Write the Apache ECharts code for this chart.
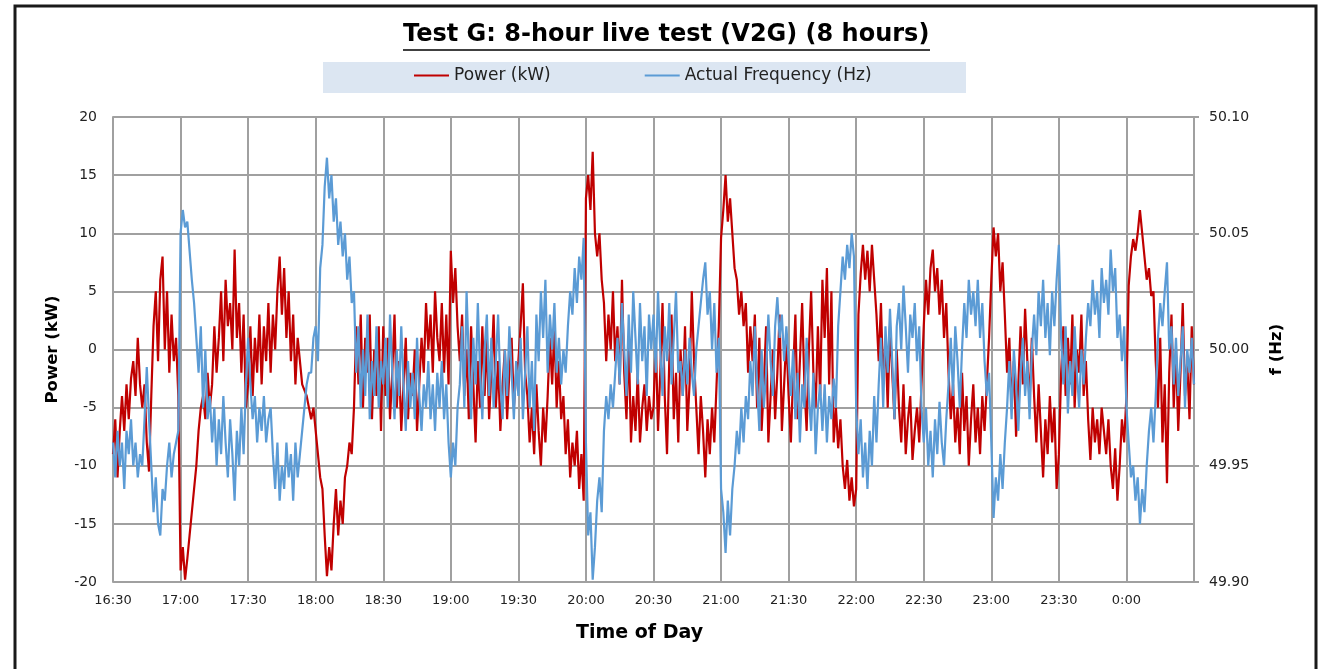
<!DOCTYPE html>
<html>
<head>
<meta charset="utf-8">
<title>Test G: 8-hour live test (V2G)</title>
<script src="https://cdn.jsdelivr.net/npm/echarts@6/dist/echarts.min.js"></script>
<style>
  html, body { margin: 0; padding: 0; background: #fff; }
  #main { width: 1319px; height: 669px; }
</style>
</head>
<body>
<div id="main"></div>
<script>
// one sample per minute, starting 16:30 (minute 0) up to 00:30 (minute 480)
var xTickLabels = ['16:30', '17:00', '17:30', '18:00', '18:30', '19:00', '19:30', '20:00',
                   '20:30', '21:00', '21:30', '22:00', '22:30', '23:00', '23:30', '0:00'];

// Power (kW), one line per half hour
var powerKw = [
    -9, -6, -11, -7, -4, -7, -3, -6, -2.5, -1, -4, 1, -3, -5, -3, -8, -10.5, -4, 2, 5, -1, 6, 8, 0, 5, -2, 3, -1, 1, -4,
    -19, -17, -19.8, -18, -16, -14, -12, -10, -7, -5, -4, -6, -2, -5, -3, 2, -2, 1, 5, -1, 6, 2, 4, 0, 8.6, 1, 4, -2, 3, -5,
    -3, 2, -4, 1, -2, 3, -3, 2, -1, 4, -2, 3, 0, 5, 8, 3, 7, 1, 5, -1, 3, -3, 1, -1, -3, -3.5, -4, -5, -6, -5,
    -7, -9, -11, -12, -16, -19.5, -17, -19, -15, -12, -16, -13, -15, -11, -10, -8, -9, -5, 2, -3, 3, -5, 1, -2, 3, -6, 0, -4, 2, -7,
    2, -4, 1, -6, -2, 3, -5, -1, -7, -3, 1, -6, -2, -4, 0, -7, -3, 1, -2, 4, 0, 3, -2, 5, 1, -1, 4, -2, 3, -3,
    8.5, 4, 7, 2, -1, 3, -4, 0, -6, 2, -3, -8, -1, -5, 2, -4, 1, -6, -2, 3, -5, -1, -7, -3, 0, -6, -2, 1, -5, -2,
    -1, 2, 5.7, -2, -4, -8, -5, -9, -3, -7, -10, -5, -8, -4, 1, -3, 2, -5, -1, -6, -4, -9, -6, -11, -8, -10, -7, -12, -9, -13,
    13, 15, 12, 17, 10, 8, 10, 6, 4, -1, 3, 0, 5, -1, 2, -3, 6, -2, -6, 1, -8, -4, -7, -2, -8, -5, -3, -7, -4, -6,
    -5, 1, -7, -2, 4, -4, -9, -1, 3, -6, -2, -8, 0, -4, 2, -7, -3, 5, -1, -5, -9, -4, -7, -11, -6, -9, -5, -8, -3, 2,
    9.6, 12, 15, 11, 13, 10, 7, 6, 3, 5, 2, 4, -2, 2, -1, 3, -5, 1, -7, -3, 2, -8, -4, 0, -6, -2, 3, -7, -3, 1,
    -4, -8, -2, 3, -6, -1, 4, -3, -7, 0, 5, -2, -5, 2, -4, 6, 1, 7, -3, 5, -8, -5, -8.5, -6, -10, -12, -9.5, -13, -11, -13.5,
    -12, 3, 6.5, 9, 6, 8.5, 5, 9, 6, 3, -1, 4, -3, 1, -5, 2, -2, -6, 0, -5, -8, -3, -9, -6, -4, -9.5, -7, -5, -8, -3,
    2, 6, 3, 7, 8.6, 5, 7, 3, 6, 1, 4, -2, -6, -3, -8, -5, -9, -2, -7, -4, -10, -6, -3, -8, -5, -9, -4, -7, -3, 1,
    6, 10.5, 8, 10, 5, 7.5, 3, -2, 1, -5, -1, -7.5, -3, 2, -3, 3.5, -1, -4.5, 1, -4, -8, -3, -7, -11, -6, -9, -4, -8, -5, -12,
    -9, -2, 2, -4, 1, -3, 3, -5, 0, -2, 3, -4, -1, -6, -9.5, -5, -8, -6, -9, -5, -7, -9, -6, -10, -12, -8.5, -13, -10, -6, -8,
    -4, 5.5, 8, 9.5, 8.5, 10, 12, 10, 8, 6, 7, 4.6, 5, -1, -5, 1, -8, -3, -11.5, -2, 3, -5, 0, -7, -2, 4, -4, -1, -6, 2, -3
];

// Actual Frequency (Hz), same minutes
var freqHz = [
    49.96, 49.945, 49.965, 49.95, 49.96, 49.94, 49.965, 49.955, 49.97, 49.95, 49.96, 49.945, 49.955, 49.95, 49.97, 49.9925, 49.97, 49.95, 49.93, 49.945, 49.925, 49.92, 49.94, 49.935, 49.95, 49.96, 49.945, 49.955, 49.96, 49.965,
    50.05, 50.06, 50.0525, 50.055, 50.0425, 50.03, 50.02, 50.005, 49.99, 50.01, 49.975, 50.0, 49.97, 49.98, 49.96, 49.975, 49.95, 49.97, 49.955, 49.98, 49.96, 49.945, 49.97, 49.955, 49.935, 49.965, 49.95, 49.975, 49.955, 49.985,
    50.005, 49.985, 49.97, 49.98, 49.96, 49.975, 49.965, 49.98, 49.96, 49.97, 49.975, 49.955, 49.94, 49.96, 49.935, 49.95, 49.94, 49.96, 49.945, 49.955, 49.935, 49.96, 49.945, 49.955, 49.965, 49.975, 49.985, 49.99, 49.99, 50.005,
    50.01, 49.995, 50.035, 50.045, 50.07, 50.0825, 50.065, 50.075, 50.055, 50.065, 50.045, 50.055, 50.04, 50.05, 50.03, 50.04, 50.02, 50.025, 49.99, 50.01, 49.975, 50.0, 49.98, 50.015, 49.97, 49.995, 49.98, 50.01, 49.975, 49.995,
    49.985, 50.005, 49.975, 50.015, 49.99, 49.97, 50.0, 49.98, 50.01, 49.985, 49.965, 49.995, 49.975, 49.99, 49.97, 50.005, 49.98, 49.965, 49.985, 49.975, 49.995, 49.97, 49.985, 49.965, 49.99, 49.975, 49.995, 49.97, 49.985, 49.96,
    49.945, 49.96, 49.95, 49.975, 49.985, 50.01, 49.975, 50.025, 49.995, 49.97, 50.005, 49.985, 50.02, 49.99, 49.97, 50.0, 50.015, 49.98, 50.005, 49.975, 49.995, 50.015, 49.985, 49.97, 50.0, 49.98, 50.01, 49.99, 49.97, 49.995,
    49.98, 50.005, 49.97, 49.99, 50.01, 49.975, 49.995, 49.965, 50.015, 49.995, 50.025, 50.005, 50.03, 49.99, 50.015, 50.0, 50.02, 49.99, 50.005, 49.985, 50.0, 49.99, 50.01, 50.025, 50.015, 50.035, 50.02, 50.04, 50.03, 50.048,
    49.96, 49.92, 49.93, 49.901, 49.915, 49.935, 49.945, 49.93, 49.965, 49.98, 49.97, 49.985, 49.975, 49.99, 50.005, 49.985, 50.02, 50.0, 49.98, 50.015, 49.99, 50.025, 50.005, 49.985, 50.02, 49.995, 50.01, 49.98, 50.015, 50.0,
    50.015, 49.99, 50.025, 50.0, 49.98, 50.01, 49.995, 50.02, 49.985, 50.005, 50.025, 49.99, 49.995, 49.98, 50.0, 49.985, 50.005, 49.99, 49.98, 50.0, 50.01, 50.02, 50.03, 50.0375, 50.015, 50.025, 50.0, 50.02, 49.99, 50.005,
    49.94, 49.93, 49.9125, 49.935, 49.92, 49.94, 49.95, 49.965, 49.955, 49.975, 49.96, 49.98, 49.97, 49.995, 49.98, 50.01, 49.985, 49.965, 50.0, 49.975, 49.99, 50.015, 49.995, 49.98, 50.01, 50.0225, 50.005, 50.015, 49.995, 50.01,
    49.995, 49.98, 50.0, 49.97, 49.99, 49.96, 49.985, 49.975, 50.005, 49.98, 49.965, 49.99, 49.955, 49.975, 49.985, 49.965, 49.985, 49.96, 49.98, 49.97, 49.9875, 49.975, 50.01, 50.025, 50.04, 50.03, 50.045, 50.035, 50.05, 50.04,
    49.975, 49.955, 49.97, 49.945, 49.96, 49.94, 49.965, 49.95, 49.98, 49.96, 49.985, 50.005, 49.975, 50.01, 49.99, 50.0175, 49.995, 49.97, 50.01, 50.02, 50.0, 50.0275, 50.01, 49.99, 50.015, 50.005, 50.02, 49.995, 50.01, 49.975,
    49.96, 49.975, 49.95, 49.965, 49.945, 49.97, 49.955, 49.9775, 49.96, 49.95, 49.97, 49.985, 50.005, 49.98, 50.01, 49.995, 49.975, 50.0, 50.02, 50.005, 50.03, 50.015, 50.025, 50.01, 50.03, 50.005, 50.02, 49.995, 49.98, 49.99,
    49.96, 49.9275, 49.945, 49.935, 49.955, 49.94, 49.96, 49.975, 49.995, 49.97, 50.0, 49.985, 49.965, 49.99, 50.005, 49.98, 49.995, 49.97, 50.0, 50.015, 49.9975, 50.025, 50.01, 50.03, 50.005, 50.02, 49.9975, 50.025, 50.01, 50.03,
    50.045, 50.005, 49.985, 50.01, 49.9725, 49.995, 49.98, 50.01, 49.99, 49.975, 50.0, 49.985, 50.005, 50.02, 50.01, 50.03, 50.015, 50.025, 50.005, 50.035, 50.02, 50.03, 50.015, 50.043, 50.025, 50.035, 50.005, 50.015, 49.995, 50.01,
    49.975, 49.96, 49.945, 49.95, 49.935, 49.945, 49.925, 49.94, 49.93, 49.95, 49.965, 49.975, 49.96, 49.98, 50.005, 50.02, 50.01, 50.025, 50.0375, 50.0, 50.01, 49.985, 50.005, 49.98, 49.995, 50.01, 49.975, 50.0, 49.99, 50.005, 49.985
];

var myChart = echarts.init(document.getElementById('main'));

var gridColor = '#a0a0a0';
var font = 'DejaVu Sans';

var option = {
    animation: false,
    backgroundColor: '#fff',
    graphic: [
        // outer chart frame
        { type: 'rect', shape: { x: 15, y: 6, width: 1301, height: 700 },
          style: { fill: 'none', stroke: '#1a1a1a', lineWidth: 3 }, z: 0 },
        // legend box
        { type: 'rect', shape: { x: 323, y: 62, width: 643, height: 31 },
          style: { fill: '#dce6f2' }, z: 0 },
        // title + underline
        { type: 'text', left: 403, top: 23,
          style: { text: 'Test G: 8-hour live test (V2G) (8 hours)', font: 'bold 24px "DejaVu Sans"', fill: '#000' } },
        { type: 'line', shape: { x1: 403, y1: 50, x2: 930, y2: 50 },
          style: { stroke: '#000', lineWidth: 1.5 } }
    ],
    legend: {
        left: 414,
        top: 67,
        padding: 0,
        icon: 'rect',
        itemWidth: 35,
        itemHeight: 2,
        itemGap: 94,
        textStyle: { fontFamily: font, fontSize: 17, color: '#222' },
        data: ['Power (kW)', 'Actual Frequency (Hz)']
    },
    grid: { left: 113, right: 125, top: 117, bottom: 87 },
    xAxis: {
        type: 'value',
        min: 0,
        max: 480,
        interval: 30,
        name: 'Time of Day',
        nameLocation: 'middle',
        nameGap: 42,
        nameTextStyle: { fontFamily: font, fontWeight: 'bold', fontSize: 19, color: '#000',
                         padding: [0, 28, 0, 0] },
        axisLine: { lineStyle: { color: gridColor, width: 2 } },
        axisTick: { show: false },
        splitLine: { show: true, lineStyle: { color: gridColor, width: 2 } },
        axisLabel: {
            showMaxLabel: false,
            margin: 12,
            fontFamily: font, fontSize: 13, color: '#222',
            formatter: function (v) { return xTickLabels[Math.round(v / 30)] || ''; }
        }
    },
    yAxis: [
        {
            type: 'value',
            min: -20, max: 20, interval: 5,
            name: 'Power (kW)',
            nameLocation: 'middle',
            nameGap: 52,
            nameRotate: 90,
            nameTextStyle: { fontFamily: font, fontWeight: 'bold', fontSize: 16.5, color: '#000' },
            axisLine: { show: true, lineStyle: { color: gridColor, width: 2 } },
            axisTick: { show: false },
            splitLine: { lineStyle: { color: gridColor, width: 2 } },
            axisLabel: { fontFamily: font, fontSize: 14, color: '#222', margin: 16 }
        },
        {
            type: 'value',
            min: 49.9, max: 50.1, interval: 0.05,
            name: 'f (Hz)',
            nameLocation: 'middle',
            nameGap: 74,
            nameRotate: 90,
            nameTextStyle: { fontFamily: font, fontWeight: 'bold', fontSize: 16.5, color: '#000' },
            axisLine: { show: true, lineStyle: { color: gridColor, width: 2 } },
            axisTick: { show: true, length: 5, lineStyle: { color: gridColor, width: 2 } },
            splitLine: { show: false },
            axisLabel: { fontFamily: font, fontSize: 14, color: '#222', margin: 15,
                         formatter: function (v) { return v.toFixed(2); } }
        }
    ],
    series: [
        {
            name: 'Power (kW)',
            type: 'line',
            yAxisIndex: 0,
            symbol: 'none',
            color: '#c00000',
            lineStyle: { width: 2.2 },
            data: powerKw.map(function (v, i) { return [i, v]; })
        },
        {
            name: 'Actual Frequency (Hz)',
            type: 'line',
            yAxisIndex: 1,
            symbol: 'none',
            color: '#5b9bd5',
            lineStyle: { width: 2.2 },
            data: freqHz.map(function (v, i) { return [i, v]; })
        }
    ]
};
myChart.setOption(option);
</script>
</body>
</html>
